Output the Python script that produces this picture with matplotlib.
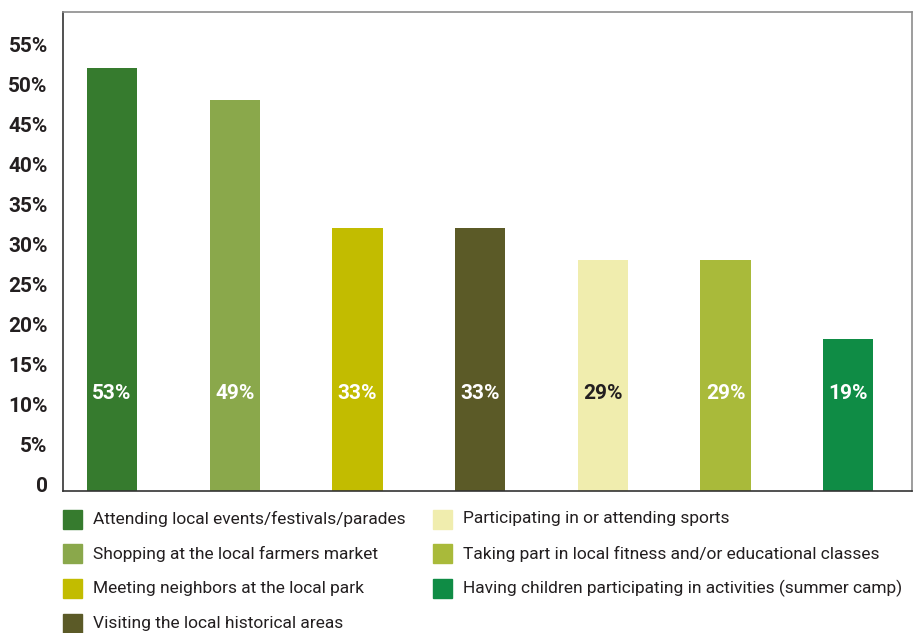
import matplotlib.pyplot as plt
import matplotlib.transforms as mtransforms
from matplotlib.patches import Rectangle

# data
activities = [
    "Attending local events/festivals/parades",
    "Shopping at the local farmers market",
    "Meeting neighbors at the local park",
    "Visiting the local historical areas",
    "Participating in or attending sports",
    "Taking part in local fitness and/or educational classes",
    "Having children participating in activities (summer camp)",
]
shares = [53, 49, 33, 33, 29, 29, 19]
colors = ["#367B2E", "#8AA84B", "#C2BC00", "#5B5A27", "#F0EDAE", "#A9BA3A", "#0F8C45"]
label_colors = ["white", "white", "white", "white", "#231F20", "white", "white"]
yticks = list(range(0, 60, 5))

plt.rcParams['font.family'] = ['Roboto', 'DejaVu Sans']

fig = plt.figure(figsize=(9.13, 6.33), dpi=100)
ax = fig.add_axes([0.069, 0.2243, 0.9299, 0.7567])

x = list(range(len(shares)))
ax.bar(x, shares, width=0.41, color=colors)
for xi, v, c in zip(x, shares, label_colors):
    ax.text(xi, 12.25, f"{v}%", ha='center', va='center', color=c,
            fontsize=15, fontweight='bold')

ax.set_xlim(-0.40, 6.52)
ax.set_ylim(0, 60)
ax.set_xticks([])
ax.set_yticks(yticks)
ax.set_yticklabels([f"{t}%" if t else "0" for t in yticks],
                   fontsize=15, fontweight='bold', color='#231F20')
ax.tick_params(axis='y', length=0, pad=11)
# labels sit a little above their gridline in the original
offset = mtransforms.ScaledTranslation(0, 7 / 100, fig.dpi_scale_trans)
for lab in ax.get_yticklabels():
    lab.set_transform(lab.get_transform() + offset)

for side in ['top', 'right']:
    ax.spines[side].set_color('#8C8C8C')
    ax.spines[side].set_linewidth(1.2)
for side in ['left', 'bottom']:
    ax.spines[side].set_color('#333333')
    ax.spines[side].set_linewidth(1.2)

# legend, two columns (4 + 3)
W, H = 913, 633
for i, (name, c) in enumerate(zip(activities, colors)):
    col, row = i // 4, i % 4
    x0 = 63 if col == 0 else 433
    yc = 519 + row * 34.8
    fig.patches.append(Rectangle((x0 / W, 1 - (yc + 9.5) / H), 19 / W, 19 / H,
                                 transform=fig.transFigure, color=c))
    fig.text((x0 + 30) / W, 1 - yc / H, name, ha='left', va='center',
             fontsize=12.5, color='#231F20')

fig.savefig("out.png", dpi=100)
